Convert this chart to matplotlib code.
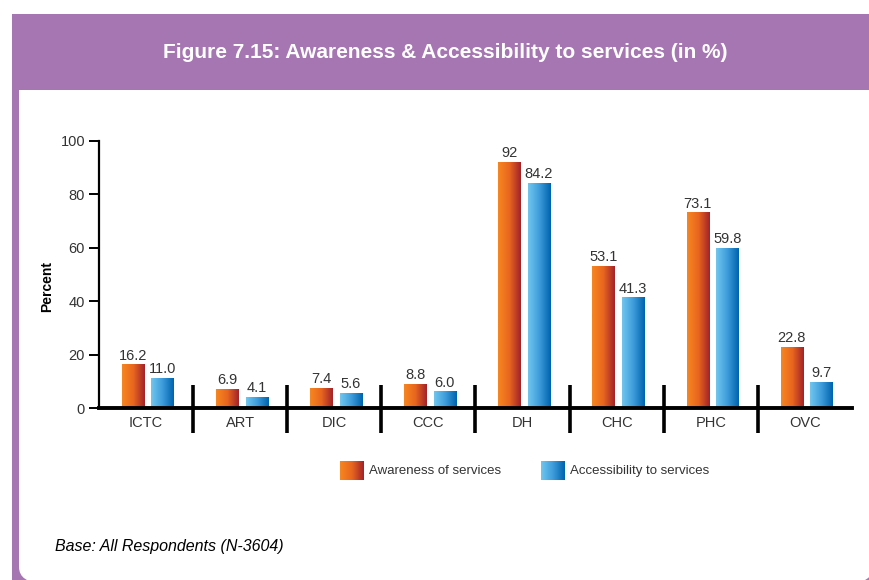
import numpy as np
import matplotlib
matplotlib.use("Agg")
import matplotlib.pyplot as plt
from matplotlib.colors import LinearSegmentedColormap
from matplotlib.patches import Rectangle, FancyBboxPatch

categories = ["ICTC", "ART", "DIC", "CCC", "DH", "CHC", "PHC", "OVC"]
awareness = [16.2, 6.9, 7.4, 8.8, 92, 53.1, 73.1, 22.8]
awareness_labels = ["16.2", "6.9", "7.4", "8.8", "92", "53.1", "73.1", "22.8"]
accessibility = [11.0, 4.1, 5.6, 6.0, 84.2, 41.3, 59.8, 9.7]
accessibility_labels = ["11.0", "4.1", "5.6", "6.0", "84.2", "41.3", "59.8", "9.7"]
series_names = ["Awareness of services", "Accessibility to services"]
y_ticks = [0, 20, 40, 60, 80, 100]

plt.rcParams["font.family"] = ["Liberation Sans", "DejaVu Sans"]

W, H = 870, 580
PURPLE = "#A676B2"
TEXT = "#333333"
orange_cmap = LinearSegmentedColormap.from_list("o", ["#F7861F", "#E8661F", "#A3222B"])
blue_cmap = LinearSegmentedColormap.from_list("b", ["#70C6EE", "#3E9CDA", "#0063AE"])
grad = np.linspace(0, 1, 64).reshape(1, -1)


def fx(px):
    return px / W


def fy(py):
    return 1 - py / H


fig = plt.figure(figsize=(W / 100, H / 100), dpi=100)
fig.patch.set_facecolor("white")

# purple frame with white rounded panel
fig.patches.append(Rectangle((fx(12), 0), 1 - fx(12), fy(14), transform=fig.transFigure,
                             facecolor=PURPLE, edgecolor="none", zorder=0))
fig.patches.append(FancyBboxPatch((fx(19), fy(583)), fx(873 - 19), fy(60) - fy(583),
                                  boxstyle="round,pad=0,rounding_size=0.028",
                                  transform=fig.transFigure, facecolor="white",
                                  edgecolor="none", zorder=0.5))
fig.patches.append(Rectangle((fx(12), fy(90)), 1 - fx(12), fy(14) - fy(90), transform=fig.transFigure,
                             facecolor=PURPLE, edgecolor="none", zorder=1))
fig.text(fx(445), fy(52), "Figure 7.15: Awareness & Accessibility to services (in %)",
         color="white", fontsize=15, fontweight="bold", ha="center", va="center")

ax = fig.add_axes([fx(99), fy(408), fx(852 - 99), fy(141) - fy(408)])
ax.set_zorder(5)
ax.set_facecolor("none")

x = np.arange(len(categories))
bw = 0.235
for i in range(len(categories)):
    for off, val, lab, cmap in [(-0.14, awareness[i], awareness_labels[i], orange_cmap),
                                (0.175, accessibility[i], accessibility_labels[i], blue_cmap)]:
        x0 = x[i] + off - bw / 2
        ax.imshow(grad, cmap=cmap, extent=[x0, x0 + bw, 0, val], aspect="auto",
                  interpolation="bilinear", zorder=2)
        ax.text(x[i] + off, val + 0.8, lab, ha="center", va="bottom",
                fontsize=10.5, color=TEXT)

ax.set_xlim(-0.5, len(categories) - 0.5)
ax.set_ylim(0, 100)
ax.set_yticks(y_ticks)
ax.set_xticks([])
for s in ["top", "right"]:
    ax.spines[s].set_visible(False)
ax.spines["left"].set_linewidth(1.6)
ax.spines["bottom"].set_linewidth(2.8)
ax.spines["left"].set_zorder(3)
ax.spines["bottom"].set_zorder(3)
ax.tick_params(axis="y", length=7, width=1.4, labelsize=10.5, labelcolor=TEXT, pad=3)

# category separators and labels
ax.vlines(x[:-1] + 0.5, -9.4, 8.6, colors="black", linewidth=2.6, clip_on=False, zorder=3)
for i, c in enumerate(categories):
    ax.text(x[i], -5.6, c, ha="center", va="center", fontsize=10.5, color=TEXT)

fig.text(fx(47), fy(287), "Percent", rotation=90, fontsize=10, fontweight="bold",
         ha="center", va="center", color="black")

# legend with gradient swatches
for px, name, cmap in [(340, series_names[0], orange_cmap), (541, series_names[1], blue_cmap)]:
    lax = fig.add_axes([fx(px), fy(480), fx(24), fy(461) - fy(480)])
    lax.set_zorder(5)
    lax.imshow(grad, cmap=cmap, aspect="auto", interpolation="bilinear")
    lax.axis("off")
    fig.text(fx(px + 29), fy(471), name, ha="left", va="center", fontsize=9.5, color=TEXT)

fig.text(fx(55), fy(547), "Base: All Respondents (N-3604)", ha="left", va="center",
         fontsize=11.5, style="italic", color="black")

fig.savefig("out.png", dpi=100)
